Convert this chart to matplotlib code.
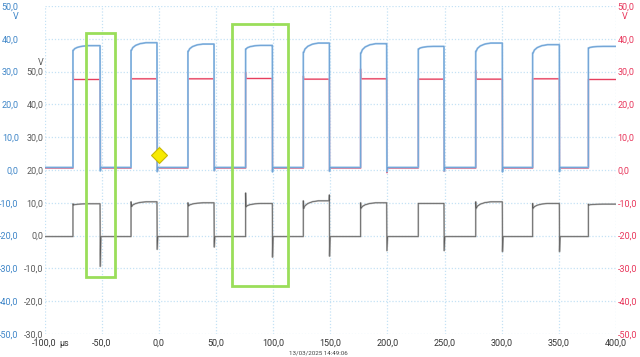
import matplotlib
matplotlib.use("Agg")
import matplotlib.pyplot as plt
from matplotlib.patches import Rectangle

plt.rcParams['font.family'] = ['Roboto', 'DejaVu Sans']

# time axis (µs)
x_ticks = [-100, -50, 0, 50, 100, 150, 200, 250, 300, 350, 400]
x_labels = ["-100,0", "-50,0", "0,0", "50,0", "100,0", "150,0", "200,0",
            "250,0", "300,0", "350,0", "400,0"]
y_ticks = [-50, -40, -30, -20, -10, 0, 10, 20, 30, 40, 50]
gray_ticks = [-30, -20, -10, 0, 10, 20, 30, 40, 50]
gray_offset = 20  # gray channel 0 V sits at blue -20 V

# edges
rise_t = [-75.1, -24.3, 25.5, 76.0, 126.4, 176.6, 227.0, 277.3, 327.1, 375.8]
fall_t = [-51.4, -1.6, 48.3, 99.3, 149.2, 199.4, 249.5, 300.5, 350.4]
t_start, t_end = -100, 400

# blue channel
blue_low = 0.8
blue_start = [36.5, 36.5, 36.2, 36.9, 35.9, 35.7, 36.9, 36.2, 35.7, 37.2]
blue_top = [37.9, 38.8, 38.4, 38.0, 38.7, 38.5, 37.7, 38.7, 38.2, 37.7]
blue_dip = [-0.3, -0.5, -0.2, -0.6, -0.4, -0.5, -0.3, -0.6, -0.5]

# red channel
red_low = 0.6
red_top = [27.6, 27.8, 27.8, 27.9, 27.7, 27.8, 27.7, 27.7, 27.8, 27.6]
red_peak = [30.3, 27.8, 27.8, 29.8, 28.6, 30.8, 27.7, 30.3, 27.8, 27.6]
red_dip = [0.0, -0.4, -0.2, 0.0, -0.3, -0.8, -0.4, -0.2, 0.0]

# gray channel (its own scale)
gray_low = -0.3
gray_start = [9.3, 8.8, 9.0, 8.8, 8.3, 8.3, 9.8, 8.3, 8.3, 9.3]
gray_top = [9.7, 10.3, 10.0, 9.8, 10.6, 10.0, 9.8, 10.3, 9.8, 9.6]
gray_peak = [9.7, 10.3, 10.0, 13.0, 10.6, 10.0, 9.8, 10.3, 9.8, 9.6]
gray_pre_fall = [9.7, 10.3, 10.0, 9.8, 12.4, 10.0, 9.8, 10.3, 9.8]
gray_dip = [-9.4, -4.2, -3.5, -6.6, -6.3, -4.6, -4.6, -4.9, -4.9]

# shape of the top after a rising edge
knee_dt = [1.5, 4, 8, 13]
knee_frac = [0.35, 0.65, 0.88, 1.0]

# markers
trigger = (0, 4.5)
boxes = [(-63.7, -32.7, 25.4, 74.6), (63.8, -35.5, 49.5, 80.1)]


def build(low, start, top, peak, pre_fall, dip, shift=0):
    t, v = [t_start], [low]
    for i, r in enumerate(rise_t):
        t += [r, r, r + 0.4]
        v += [low, peak[i], start[i]]
        for dt, fr in zip(knee_dt, knee_frac):
            t.append(r + dt)
            v.append(start[i] + (top[i] - start[i]) * fr)
        if i < len(fall_t):
            f = fall_t[i]
            t += [f - 0.3, f, f + 0.2, f + 0.8]
            v += [top[i], pre_fall[i], dip[i], low]
        else:
            t.append(t_end)
            v.append(top[i])
    return t, [x - shift for x in v]


fig = plt.figure(figsize=(6.4, 3.57), dpi=100)
ax = fig.add_axes([44.5 / 640, 1 - 334 / 357, 571.5 / 640, 328 / 357])
ax.set_xlim(-100, 400)
ax.set_ylim(-50, 50)
for s in ax.spines.values():
    s.set_visible(False)

ax.set_xticks(x_ticks)
ax.set_xticklabels(x_labels)
ax.set_yticks(y_ticks)
ax.set_yticklabels([f"{y:.1f}".replace(".", ",") for y in y_ticks])
ax.tick_params(axis='x', length=0, pad=3.5, labelsize=6.5, labelcolor='#333333')
ax.tick_params(axis='y', length=0, pad=18.5, labelsize=6.5, labelcolor='#3f86c8')
ax.grid(True, color='#c5e2f5', linestyle=(0, (1, 1.5)), linewidth=0.9)
ax.set_axisbelow(True)

sec = ax.secondary_yaxis('left', functions=(lambda y: y + gray_offset,
                                             lambda y: y - gray_offset))
sec.set_yticks(gray_ticks)
sec.set_yticklabels([f"{y:.1f}".replace(".", ",") for y in gray_ticks])
sec.tick_params(length=0, pad=0.8, labelsize=6.5, labelcolor='#5a5a5a')
for s in sec.spines.values():
    s.set_visible(False)

red_ax = ax.secondary_yaxis('right', functions=(lambda y: y, lambda y: y))
red_ax.set_yticks(y_ticks)
red_ax.set_yticklabels([f"{y:.1f}".replace(".", ",") for y in y_ticks])
red_ax.tick_params(length=0, pad=1.2, labelsize=6.5, labelcolor='#e8365b')
for s in red_ax.spines.values():
    s.set_visible(False)

ytr = ax.get_yaxis_transform()
ax.text(-0.051, 46.9, "V", transform=ytr, ha='center', va='center',
        fontsize=6.5, color='#3f86c8')
ax.text(-0.007, 32.9, "V", transform=ytr, ha='center', va='center',
        fontsize=6.5, color='#5a5a5a')
ax.text(1.0155, 46.9, "V", transform=ytr, ha='center', va='center',
        fontsize=6.5, color='#e8365b')
ax.text(0.0254, -0.028, "µs", transform=ax.transAxes, ha='left', va='center',
        fontsize=6.5, color='#333333')
fig.text(0.497, 0.011, "13/03/2025 14:49:06", ha='center', va='center',
         fontsize=4.5, color='#444444')

# traces (blue drawn over red, as on the scope)
rt, rv = build(red_low, red_top, red_top, red_peak, red_top, red_dip)
ax.plot(rt, rv, color='#f5a3b3', lw=1.3, zorder=3)
ax.plot(rt, rv, color='#e0163b', lw=0.6, alpha=0.85, zorder=3)

bt, bv = build(blue_low, blue_start, blue_top, blue_start, blue_top, blue_dip)
ax.plot(bt, bv, color='#9cc4e8', lw=1.4, zorder=4)
ax.plot(bt, bv, color='#2c6fb8', lw=0.5, alpha=0.5, zorder=4)

gt, gv = build(gray_low, gray_start, gray_top, gray_peak, gray_pre_fall,
               gray_dip, shift=gray_offset)
ax.plot(gt, gv, color='#b8b8b8', lw=1.3, zorder=3)
ax.plot(gt, gv, color='#2b2b2b', lw=0.5, alpha=0.65, zorder=3)

for x0, y0, w, h in boxes:
    ax.add_patch(Rectangle((x0, y0), w, h, fill=False, edgecolor='#9ade5a',
                           lw=2, zorder=6))

ax.plot([trigger[0]], [trigger[1]], marker='D', markersize=8,
        markerfacecolor='#f7ea00', markeredgecolor='#c9b800', mew=0.8,
        zorder=7)

fig.savefig("out.png", dpi=100)
